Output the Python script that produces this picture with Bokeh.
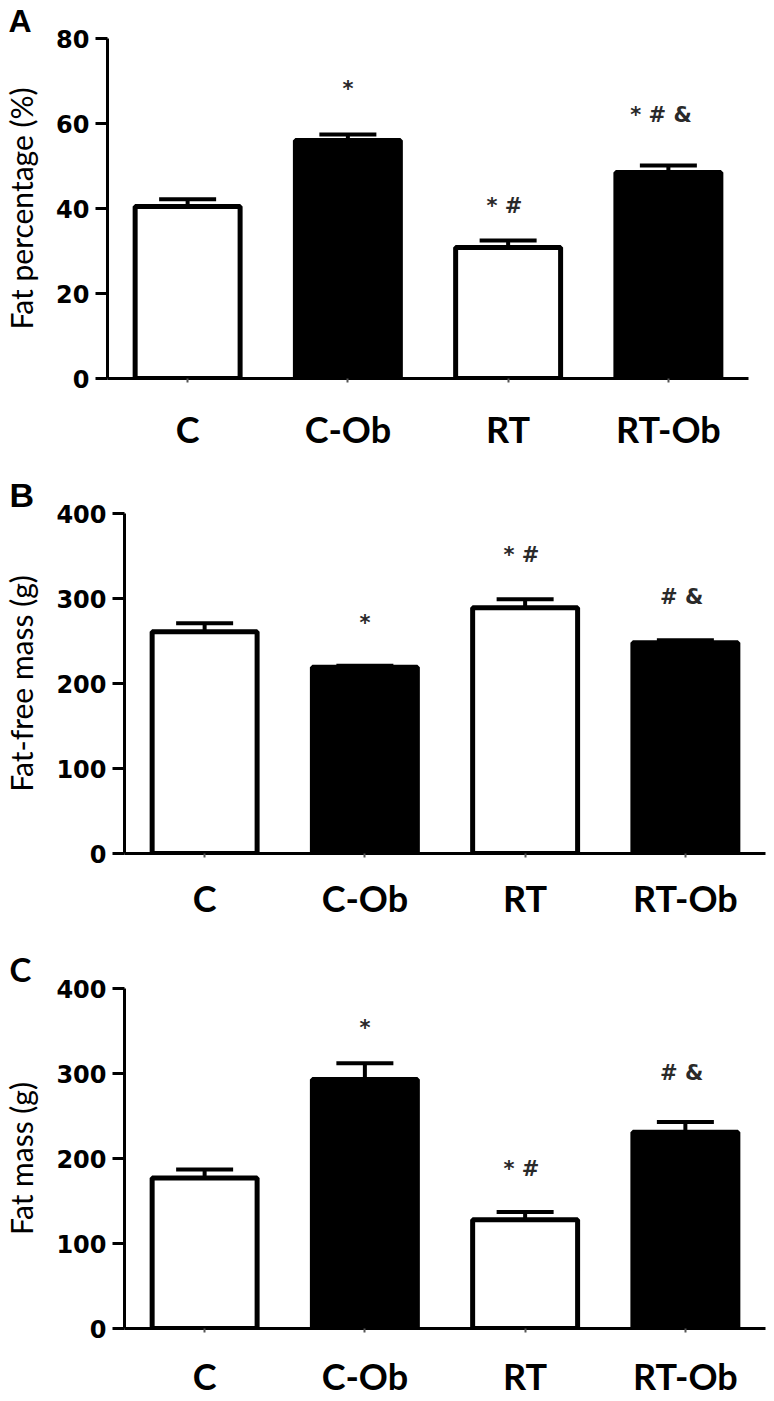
from bokeh.plotting import figure
from bokeh.models import FactorRange, Range1d, FixedTicker, Whisker, TeeHead, ColumnDataSource
from bokeh.layouts import column, row
from bokeh.embed import file_html
from bokeh.resources import INLINE
from bokeh.core.properties import value

groups = ["C", "C-Ob", "RT", "RT-Ob"]
fills = ["white", "black", "white", "black"]

# Panel A: fat percentage (%)
fat_pct = [40.5, 56.0, 30.8, 48.5]
fat_pct_err = [1.7, 1.4, 1.7, 1.6]
fat_pct_sig = ["", "*", "*  #", "*  #  &"]
fat_pct_sig_y = [0, 68.2, 40.7, 61.9]
fat_pct_ticks = [0, 20, 40, 60, 80]

# Panel B: fat-free mass (g)
ffm = [261, 219, 289, 248]
ffm_err = [10, 2, 10, 3]
ffm_sig = ["", "*", "*  #", "#  &"]
ffm_sig_y = [0, 270.6, 350.6, 302]
mass_ticks = [0, 100, 200, 300, 400]

# Panel C: fat mass (g)
fm = [177, 293, 128, 231]
fm_err = [10, 19, 9, 12]
fm_sig = ["", "*", "*  #", "#  &"]
fm_sig_y = [0, 354, 188, 301]


def panel(letter, letter_font, letter_size, vals, errs, sig, sig_y, ymax, ticks,
          ylabel, height, left, right, top, bottom, xstand):
    p = figure(x_range=FactorRange(*groups, range_padding=0, factor_padding=0),
               y_range=Range1d(0, ymax), width=774, height=height,
               output_backend="svg", toolbar_location=None,
               min_border_left=left, min_border_right=right,
               min_border_top=top, min_border_bottom=bottom)
    p.outline_line_color = None
    p.xgrid.visible = False
    p.ygrid.visible = False
    p.background_fill_color = "white"
    p.border_fill_color = "white"

    p.title.text = letter
    p.title.align = "left"
    p.title.offset = -(left - 8)
    p.title.standoff = 0
    p.title.vertical_align = "bottom"
    p.title.text_font = letter_font
    p.title.text_font_style = "bold"
    p.title.text_font_size = f"{letter_size}px"
    p.title.text_color = "black"

    src = ColumnDataSource(dict(x=groups, top=vals, upper=[v + e for v, e in zip(vals, errs)],
                                fill=fills))
    p.vbar(x="x", top="top", bottom=0, width=0.655, source=src,
           fill_color="fill", line_color="black", line_width=5)
    w = Whisker(base="x", lower="top", upper="upper", source=src, dimension="height",
                line_color="black", line_width=4,
                upper_head=TeeHead(size=57, line_width=4, line_color="black"),
                lower_head=None)
    p.add_layout(w)

    sx = [g for g, s in zip(groups, sig) if s]
    ss = [s for s in sig if s]
    sy = [y for y, s in zip(sig_y, sig) if s]
    p.text(x=sx, y=sy, text=ss, text_align="center", text_baseline="middle",
           text_font=value("DejaVu Sans"), text_font_style="bold",
           text_font_size="21px", text_color="#2a2a2a")

    xa = p.xaxis[0]
    xa.axis_line_width = 3
    xa.axis_line_color = "black"
    xa.major_tick_out = 4
    xa.major_tick_in = 0
    xa.major_tick_line_width = 2
    xa.major_tick_line_color = "#555555"
    xa.minor_tick_line_color = None
    xa.major_label_text_font = "Lato"
    xa.major_label_text_font_style = "bold"
    xa.major_label_text_font_size = "36px"
    xa.major_label_text_color = "black"
    xa.major_label_standoff = xstand

    ya = p.yaxis[0]
    ya.ticker = FixedTicker(ticks=ticks)
    ya.axis_line_width = 3
    ya.axis_line_color = "black"
    ya.major_tick_out = 12
    ya.major_tick_in = 0
    ya.major_tick_line_width = 3
    ya.minor_tick_line_color = None
    ya.major_label_text_font = "DejaVu Sans"
    ya.major_label_text_font_style = "bold"
    ya.major_label_text_font_size = "24px"
    ya.major_label_text_color = "black"
    ya.major_label_standoff = 6
    ya.axis_label = ylabel
    ya.axis_label_text_font = "Lato"
    ya.axis_label_text_font_style = "normal"
    ya.axis_label_text_font_size = "30px"
    ya.axis_label_text_color = "black"
    ya.axis_label_standoff = 14
    return p


pA = panel("A", "Liberation Sans", 32, fat_pct, fat_pct_err, fat_pct_sig,
           fat_pct_sig_y, 80, fat_pct_ticks, "Fat percentage (%)", 465, 107, 26, 38, 87, 24)
pB = panel("B", "Liberation Sans", 34, ffm, ffm_err, ffm_sig, ffm_sig_y,
           400, mass_ticks, "Fat-free mass (g)", 470, 123, 9, 48, 82, 18)
pC = panel("C", "Lato", 33, fm, fm_err, fm_sig, fm_sig_y,
           400, mass_ticks, "Fat mass (g)", 466, 123, 9, 53, 73, 21)

layout = column(row(pA), row(pB), row(pC), spacing=0)
open("out.html", "w").write(file_html(layout, INLINE))
